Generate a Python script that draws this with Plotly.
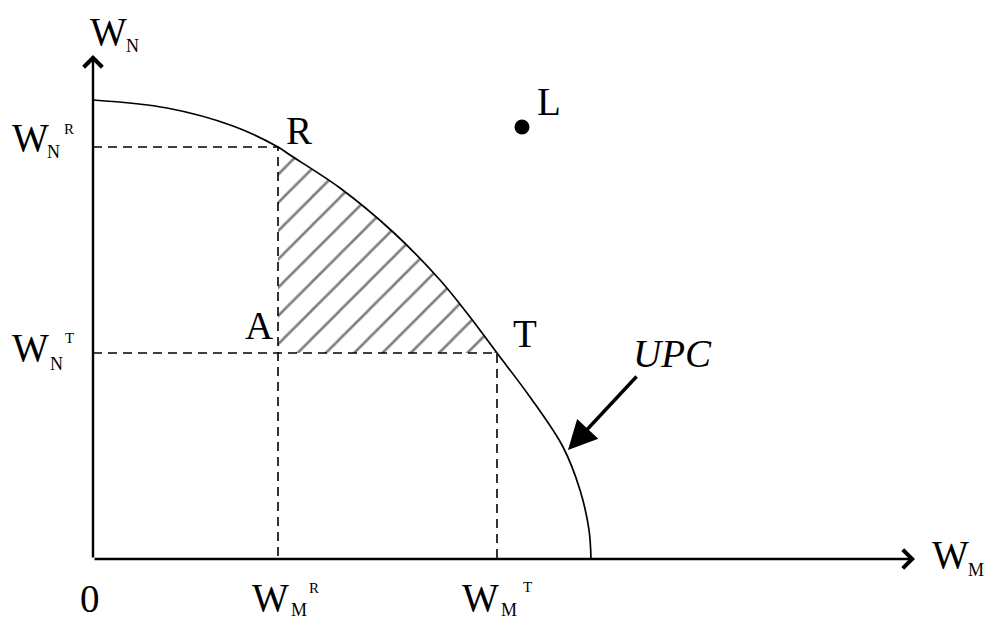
import plotly.graph_objects as go

# ---- data (diagram units; origin at 0,0) ----
# Utility possibility curve (UPC)
upc_x = [0.00, 0.74, 1.40, 1.85, 1.97, 2.47, 3.00, 3.47, 3.77, 4.04, 4.37, 4.70, 4.87, 4.96, 4.98]
upc_y = [4.59, 4.51, 4.33, 4.12, 4.04, 3.71, 3.27, 2.79, 2.42, 2.06, 1.62, 1.12, 0.69, 0.29, 0.00]
R_IDX = 3   # point R on the curve
T_IDX = 9   # point T on the curve
point_L = (4.29, 4.32)
x_axis_end = 8.22
y_axis_end = 5.04

W = 985
H = 621
X0PX, Y0PX, SCALE = 93, 559, 100.0  # pixel position of origin, pixels per unit


def P(px, py):
    return (px - X0PX) / SCALE, (Y0PX - py) / SCALE


fig = go.Figure()

Rx, Ry = upc_x[R_IDX], upc_y[R_IDX]
Tx, Ty = upc_x[T_IDX], upc_y[T_IDX]

# hatched region A-R-(curve)-T
hx = [Rx] + upc_x[R_IDX:T_IDX + 1] + [Rx]
hy = [Ty] + upc_y[R_IDX:T_IDX + 1] + [Ty]
fig.add_trace(go.Scatter(
    x=hx, y=hy, mode="lines", fill="toself",
    line=dict(width=0, color="rgba(0,0,0,0)"),
    fillcolor="white",
    fillpattern=dict(shape="/", size=20, solidity=0.13, fgcolor="black", bgcolor="white"),
    hoverinfo="skip", showlegend=False))

# dashed guide lines
dash = dict(color="black", width=1.6, dash="9px,6px")
fig.add_trace(go.Scatter(x=[0, Rx, Rx], y=[Ry, Ry, 0], mode="lines", line=dash,
                         hoverinfo="skip", showlegend=False))
fig.add_trace(go.Scatter(x=[0, Tx, Tx], y=[Ty, Ty, 0], mode="lines", line=dash,
                         hoverinfo="skip", showlegend=False))

# UPC curve
fig.add_trace(go.Scatter(x=upc_x, y=upc_y, mode="lines",
                         line=dict(color="black", width=1.7, shape="spline", smoothing=1.0),
                         hoverinfo="skip", showlegend=False))

# point L
fig.add_trace(go.Scatter(x=[point_L[0]], y=[point_L[1]], mode="markers",
                         marker=dict(color="black", size=15),
                         hoverinfo="skip", showlegend=False))

annotations = []
# axes with open arrowheads
annotations.append(dict(x=x_axis_end, y=0, ax=0, ay=0, xref="x", yref="y", axref="x", ayref="y",
                        text="", showarrow=True, arrowhead=4, arrowsize=1.5, arrowwidth=2.4,
                        arrowcolor="black", standoff=0))
annotations.append(dict(x=0, y=y_axis_end, ax=0, ay=0, xref="x", yref="y", axref="x", ayref="y",
                        text="", showarrow=True, arrowhead=4, arrowsize=1.5, arrowwidth=2.4,
                        arrowcolor="black", standoff=0))
# UPC pointer arrow
tip = P(568, 450)
tail = P(638, 375)
annotations.append(dict(x=tip[0], y=tip[1], ax=tail[0], ay=tail[1], xref="x", yref="y",
                        axref="x", ayref="y", text="", showarrow=True, arrowhead=2,
                        arrowsize=1.7, arrowwidth=3.4, arrowcolor="black", standoff=0))

FONT = "Liberation Serif, Times New Roman, serif"


def label(text, cx, cy, size, italic=False):
    x, y = P(cx, cy)
    t = f"<i>{text}</i>" if italic else text
    annotations.append(dict(x=x, y=y, xref="x", yref="y", text=t, showarrow=False,
                            xanchor="center", yanchor="middle", borderpad=0,
                            font=dict(family=FONT, size=size, color="black")))


BIG, SUB, SUP = 39, 18, 15
# W_N (top of y axis)
label("W", 108.5, 31, BIG); label("N", 132.5, 46, SUB)
# W_N^R
label("W", 30, 137.5, BIG); label("N", 53, 152, SUB); label("R", 69, 129, SUP)
# W_N^T
label("W", 30, 347.5, BIG); label("N", 56, 364, SUB); label("T", 69, 337.5, SUP)
# W_M^R
label("W", 270, 597.5, BIG); label("M", 298.5, 610, SUB); label("R", 314, 587.5, SUP)
# W_M^T
label("W", 480, 597.5, BIG); label("M", 509, 610, SUB); label("T", 527, 587, SUP)
# W_M (end of x axis)
label("W", 950, 554.5, BIG); label("M", 975.5, 570, SUB)
# origin
label("0", 90, 598, BIG)
# points
label("R", 298.5, 130, BIG)
label("A", 259, 325, BIG)
label("T", 525, 333.5, BIG)
label("L", 549, 101.5, BIG)
label("UPC", 672, 353.5, BIG, italic=True)

fig.update_layout(
    width=W, height=H, autosize=False,
    margin=dict(l=0, r=0, t=0, b=0, pad=0),
    paper_bgcolor="white", plot_bgcolor="white",
    xaxis=dict(range=[-X0PX / SCALE, (W - X0PX) / SCALE], visible=False, fixedrange=True),
    yaxis=dict(range=[(Y0PX - H) / SCALE, Y0PX / SCALE], visible=False, fixedrange=True),
    annotations=annotations,
    showlegend=False,
)

fig.write_html("out.html", config={"displayModeBar": False},
               post_script="document.body.style.margin='0';document.body.style.overflow='hidden';")
